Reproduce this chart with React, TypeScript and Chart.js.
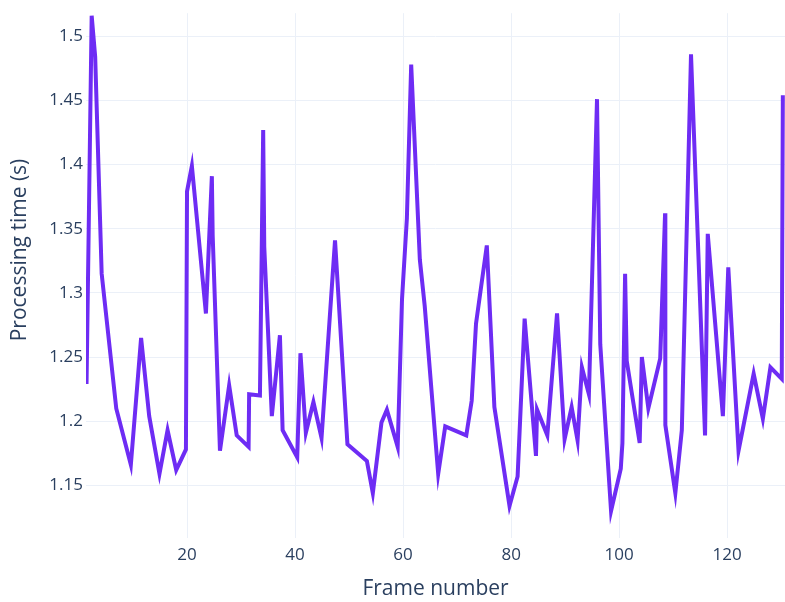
import React, { useEffect, useRef } from "react";
import { Chart, registerables } from "chart.js";

Chart.register(...registerables);

const frames: number[] = [
  1.4, 2.35, 3.0, 4.2, 6.9, 9.6, 11.5, 13.0, 14.9, 16.4, 18.0, 19.8, 20.0, 20.9,
  23.5, 24.6, 24.75, 26.1, 27.8, 29.2, 31.4, 31.5, 33.5, 34.1, 34.3, 35.7, 37.2,
  37.7, 40.4, 41.0, 42.0, 43.4, 44.9, 47.4, 49.7, 53.3, 54.4, 56.0, 57.0, 59.0,
  59.8, 60.7, 61.5, 63.1, 64.0, 66.5, 67.8, 71.7, 72.7, 73.5, 75.5, 76.9, 79.7,
  81.2, 82.5, 84.6, 84.8, 86.7, 88.5, 89.9, 91.2, 92.3, 93.1, 94.4, 95.9, 96.5,
  98.5, 100.3, 100.6, 101.1, 101.4, 103.8, 104.2, 105.4, 107.6, 108.5, 108.55,
  110.4, 111.6, 113.3, 115.9, 116.4, 119.2, 120.2, 122.1, 124.9, 126.6, 128.0,
  130.1, 130.3,
];

const times: number[] = [
  1.229, 1.516, 1.484, 1.315, 1.21, 1.166, 1.265, 1.204, 1.159, 1.193, 1.162,
  1.178, 1.379, 1.399, 1.284, 1.391, 1.345, 1.177, 1.228, 1.189, 1.18, 1.221,
  1.22, 1.427, 1.336, 1.204, 1.267, 1.193, 1.172, 1.253, 1.191, 1.215, 1.187,
  1.341, 1.182, 1.169, 1.144, 1.199, 1.209, 1.18, 1.295, 1.358, 1.478, 1.326,
  1.29, 1.159, 1.196, 1.189, 1.216, 1.276, 1.337, 1.211, 1.134, 1.157, 1.28,
  1.173, 1.209, 1.189, 1.284, 1.186, 1.211, 1.185, 1.242, 1.221, 1.451, 1.26,
  1.13, 1.163, 1.183, 1.315, 1.247, 1.183, 1.25, 1.21, 1.249, 1.362, 1.197,
  1.144, 1.193, 1.486, 1.189, 1.346, 1.204, 1.32, 1.177, 1.237, 1.202, 1.242,
  1.233, 1.454,
];

const xRange: [number, number] = [1.3, 130.7];
const yRange: [number, number] = [1.109, 1.518];
const xTitle = "Frame number";
const yTitle = "Processing time (s)";

const textColor = "#2a3f5f";
const gridColor = "#ebf0f8";

// Draws the y-axis title centred a little above the plot centre, like the reference.
const yTitlePlugin = {
  id: "yTitlePlugin",
  afterDraw(chart: any) {
    const c = chart.ctx;
    c.save();
    c.translate(20, 250);
    c.rotate(-Math.PI / 2);
    c.font = "21px 'Open Sans'";
    c.fillStyle = textColor;
    c.textAlign = "center";
    c.textBaseline = "middle";
    c.fillText(yTitle, 0, 0);
    c.restore();
  },
};

export default function App() {
  const ref = useRef<HTMLCanvasElement | null>(null);

  useEffect(() => {
    document.body.style.margin = "0";
    const ctx = ref.current;
    if (!ctx) return;
    const chart = new Chart(ctx, {
      type: "line",
      data: {
        datasets: [
          {
            data: frames.map((f, i) => ({ x: f, y: times[i] })),
            borderColor: "#6e2cf4",
            backgroundColor: "#6e2cf4",
            borderWidth: 4,
            pointRadius: 0,
            tension: 0,
            fill: false,
          },
        ],
      },
      options: {
        animation: false,
        responsive: true,
        maintainAspectRatio: false,
        layout: { padding: 0 },
        plugins: { legend: { display: false }, tooltip: { enabled: false } },
        scales: {
          x: {
            type: "linear",
            min: xRange[0],
            max: xRange[1],
            border: { display: false },
            grid: { color: gridColor, lineWidth: 1, drawTicks: false },
            ticks: {
              stepSize: 20,
              includeBounds: false,
              padding: 7,
              color: textColor,
              font: { family: "Open Sans", size: 17 },
              maxRotation: 0,
            },
            title: {
              display: true,
              text: xTitle,
              color: textColor,
              font: { family: "Open Sans", size: 21 },
              padding: { top: 0, bottom: 0 },
            },
            afterFit: (s: any) => {
              s.height = 64;
            },
          },
          y: {
            type: "linear",
            min: yRange[0],
            max: yRange[1],
            border: { display: false },
            grid: { color: gridColor, lineWidth: 1, drawTicks: false },
            ticks: {
              stepSize: 0.05,
              includeBounds: false,
              padding: 3,
              color: textColor,
              font: { family: "Open Sans", size: 17 },
              callback: (v: any) => String(Number(Number(v).toFixed(2))),
            },
            title: { display: false },
            afterFit: (s: any) => {
              s.width = 86;
            },
          },
        },
      },
      plugins: [yTitlePlugin],
    } as any);
    return () => chart.destroy();
  }, []);

  return (
    <div style={{ position: "fixed", left: 0, top: 0, width: 785, height: 602, background: "#fff" }}>
      <canvas ref={ref} />
    </div>
  );
}
